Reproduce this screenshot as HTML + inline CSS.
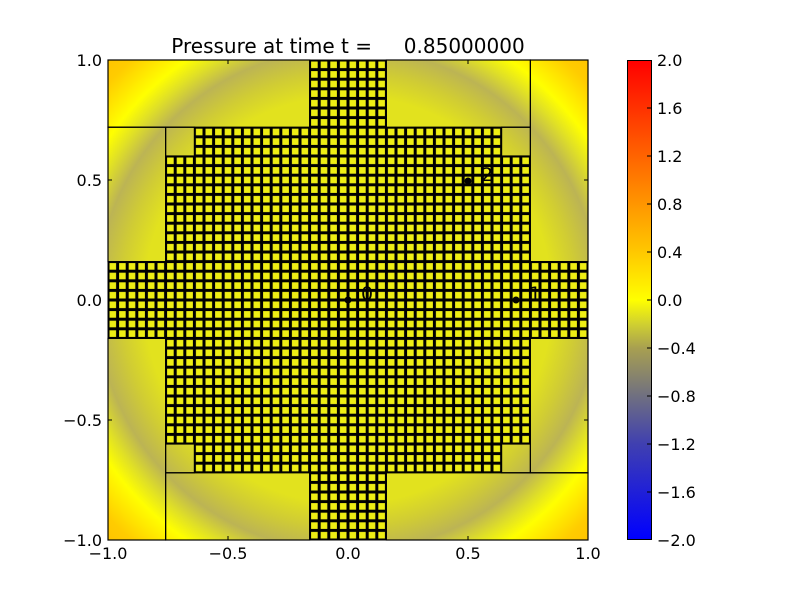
<!DOCTYPE html>
<html><head><meta charset="utf-8"><style>
body{margin:0;background:#fff;width:800px;height:600px;overflow:hidden}
text{font-family:"DejaVu Sans","Liberation Sans",sans-serif;white-space:pre}
</style></head><body>
<svg width="800" height="600" viewBox="0 0 800 600" xmlns="http://www.w3.org/2000/svg">
<defs>
<radialGradient id="bg" cx="348" cy="300" r="340" gradientUnits="userSpaceOnUse">
<stop offset="0" stop-color="#e4e41c"/>
<stop offset="0.6" stop-color="#e2e21e"/>
<stop offset="0.67" stop-color="#d0cc34"/>
<stop offset="0.74" stop-color="#bcb454"/>
<stop offset="0.8" stop-color="#e0e026"/>
<stop offset="0.85" stop-color="#ffff00"/>
<stop offset="0.95" stop-color="#ffcc00"/>
<stop offset="1" stop-color="#ffc400"/>
</radialGradient>
<pattern id="grid" x="348" y="300" width="9.6" height="9.6" patternUnits="userSpaceOnUse">
<rect width="9.6" height="9.6" fill="#000"/>
<rect x="1.5" y="1.5" width="6.6" height="6.6" fill="#eeee14"/>
</pattern>
<linearGradient id="cb" x1="0" y1="1" x2="0" y2="0">
<stop offset="0" stop-color="#0000ff"/>
<stop offset="0.2" stop-color="#4040b0"/>
<stop offset="0.3" stop-color="#707080"/>
<stop offset="0.4" stop-color="#a8a050"/>
<stop offset="0.45" stop-color="#d0d030"/>
<stop offset="0.5" stop-color="#ffff00"/>
<stop offset="0.6" stop-color="#ffc800"/>
<stop offset="0.7" stop-color="#ff9600"/>
<stop offset="0.8" stop-color="#ff6400"/>
<stop offset="1" stop-color="#ff0000"/>
</linearGradient>
</defs>
<rect x="108" y="60" width="480" height="480" fill="url(#bg)"/>
<g fill="url(#grid)">
<rect x="309.6" y="60" width="76.8" height="480"/>
<rect x="108" y="261.6" width="480" height="76.8"/>
<rect x="194.4" y="127.2" width="307.2" height="345.6"/>
<rect x="165.6" y="156" width="364.8" height="288"/>
</g>
<g fill="none" stroke="#000" stroke-width="1.2">
<rect x="108" y="60" width="201.6" height="67.2"/>
<rect x="386.4" y="60" width="144" height="67.2"/>
<rect x="530.4" y="60" width="57.6" height="201.6"/>
<rect x="530.4" y="338.4" width="57.6" height="134.4"/>
<rect x="386.4" y="472.8" width="201.6" height="67.2"/>
<rect x="165.6" y="472.8" width="144" height="67.2"/>
<rect x="108" y="338.4" width="57.6" height="201.6"/>
<rect x="108" y="127.2" width="57.6" height="134.4"/>
<rect x="165.6" y="127.2" width="28.8" height="28.8"/>
<rect x="501.6" y="127.2" width="28.8" height="28.8"/>
<rect x="501.6" y="444" width="28.8" height="28.8"/>
<rect x="165.6" y="444" width="28.8" height="28.8"/>
</g>
<rect x="108" y="60" width="480" height="480" fill="none" stroke="#000" stroke-width="1"/>
<g fill="#000"><circle cx="348" cy="300" r="3.5"/><circle cx="516" cy="300" r="3.5"/><circle cx="468" cy="181" r="3.5"/></g>
<g font-size="19" fill="#000"><text x="361" y="300">0</text><text x="529" y="300">1</text><text x="481" y="181">2</text></g>
<g stroke="#000" stroke-width="1">
<path d="M108 60v4M228 60v4M348 60v4M468 60v4M588 60v4M108 540v-4M228 540v-4M348 540v-4M468 540v-4M588 540v-4"/>
<path d="M108 60h4M108 180h4M108 300h4M108 420h4M108 540h4M588 60h-4M588 180h-4M588 300h-4M588 420h-4M588 540h-4"/>
</g>
<g font-size="16" fill="#000" text-anchor="middle">
<text x="108" y="559">−1.0</text><text x="228" y="559">−0.5</text><text x="348" y="559">0.0</text><text x="468" y="559">0.5</text><text x="588" y="559">1.0</text>
</g>
<g font-size="16" fill="#000" text-anchor="end">
<text x="102" y="66">1.0</text><text x="102" y="186">0.5</text><text x="102" y="306">0.0</text><text x="102" y="426">−0.5</text><text x="102" y="546">−1.0</text>
</g>
<text x="348" y="53" font-size="20" text-anchor="middle" fill="#000" xml:space="preserve">Pressure at time t =     0.85000000</text>
<rect x="627.5" y="60.5" width="24" height="479" fill="url(#cb)" stroke="#000" stroke-width="1"/>
<g stroke="#000"><path d="M651 108h-4M651 156h-4M651 204h-4M651 252h-4M651 300h-4M651 348h-4M651 396h-4M651 444h-4M651 492h-4"/></g>
<g font-size="16" fill="#000">
<text x="657" y="66">2.0</text><text x="657" y="114">1.6</text><text x="657" y="162">1.2</text><text x="657" y="210">0.8</text><text x="657" y="258">0.4</text><text x="657" y="306">0.0</text><text x="657" y="354">−0.4</text><text x="657" y="402">−0.8</text><text x="657" y="450">−1.2</text><text x="657" y="498">−1.6</text><text x="657" y="546">−2.0</text>
</g>
</svg>
</body></html>
